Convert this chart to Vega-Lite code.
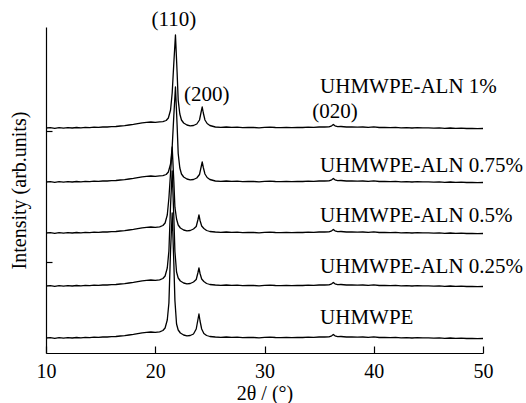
{
  "$schema": "https://vega.github.io/schema/vega-lite/v6.json",
  "width": 437,
  "height": 326,
  "autosize": "none",
  "padding": {"left": 46, "top": 27, "right": 43, "bottom": 50},
  "background": "white",
  "config": {
    "view": {"stroke": null},
    "font": "Liberation Serif, Times New Roman, serif",
    "axis": {"grid": false, "domainColor": "black", "tickColor": "black", "domainWidth": 1.2, "tickWidth": 1.2, "labelFont": "Liberation Serif, Times New Roman, serif", "titleFont": "Liberation Serif, Times New Roman, serif", "labelColor": "black", "titleColor": "black", "titleFontWeight": "normal", "labelFontSize": 20, "titleFontSize": 20}
  },
  "datasets": {
    "curves": [
      {"s":"e","x":10,"y":15},{"s":"e","x":10.4,"y":15.4},{"s":"e","x":10.8,"y":14.7},{"s":"e","x":11.2,"y":15.3},{"s":"e","x":11.6,"y":14.9},{"s":"e","x":12,"y":15.4},{"s":"e","x":12.4,"y":15},{"s":"e","x":12.8,"y":15.5},{"s":"e","x":13.2,"y":15.2},{"s":"e","x":13.6,"y":15.6},{"s":"e","x":14,"y":15.3},{"s":"e","x":14.4,"y":15.8},{"s":"e","x":14.8,"y":15.6},{"s":"e","x":15.2,"y":16},{"s":"e","x":15.6,"y":16},{"s":"e","x":16,"y":16.4},{"s":"e","x":16.4,"y":16.5},{"s":"e","x":16.8,"y":17},{"s":"e","x":17.2,"y":17.3},{"s":"e","x":17.6,"y":18},{"s":"e","x":18,"y":18.6},{"s":"e","x":18.4,"y":19.4},{"s":"e","x":18.8,"y":20.2},{"s":"e","x":19.2,"y":20.6},{"s":"e","x":19.6,"y":21},{"s":"e","x":20,"y":20.7},{"s":"e","x":20.4,"y":21.2},
      {"s":"e","x":20.7,"y":22.5},{"s":"e","x":20.9,"y":25},{"s":"e","x":21.1,"y":33},{"s":"e","x":21.25,"y":50},{"s":"e","x":21.4,"y":102.5},{"s":"e","x":21.55,"y":140},{"s":"e","x":21.7,"y":90},{"s":"e","x":21.8,"y":52.5},{"s":"e","x":21.95,"y":29},{"s":"e","x":22.1,"y":23},{"s":"e","x":22.3,"y":20},{"s":"e","x":22.6,"y":18},{"s":"e","x":22.9,"y":17.2},{"s":"e","x":23.2,"y":17.5},{"s":"e","x":23.5,"y":19},{"s":"e","x":23.75,"y":24},{"s":"e","x":23.9,"y":33},{"s":"e","x":24,"y":39},{"s":"e","x":24.1,"y":32},{"s":"e","x":24.25,"y":24},{"s":"e","x":24.45,"y":19.5},{"s":"e","x":24.7,"y":17.5},
      {"s":"e","x":25,"y":16.5},{"s":"e","x":25.5,"y":16},{"s":"e","x":26,"y":15.7},{"s":"e","x":26.5,"y":16},{"s":"e","x":27,"y":15.6},{"s":"e","x":27.5,"y":15.9},{"s":"e","x":28,"y":15.4},{"s":"e","x":28.5,"y":15.7},{"s":"e","x":29,"y":15.5},{"s":"e","x":29.5,"y":15.2},{"s":"e","x":30,"y":15.6},{"s":"e","x":30.5,"y":15.9},{"s":"e","x":31,"y":15.5},{"s":"e","x":31.5,"y":15.3},{"s":"e","x":32,"y":15.6},{"s":"e","x":32.5,"y":15.4},{"s":"e","x":33,"y":15.7},{"s":"e","x":33.5,"y":15.5},{"s":"e","x":34,"y":15.8},{"s":"e","x":34.5,"y":15.6},{"s":"e","x":35,"y":16},{"s":"e","x":35.5,"y":16},{"s":"e","x":35.9,"y":16.2},{"s":"e","x":36.15,"y":17.2},{"s":"e","x":36.3,"y":18.5},{"s":"e","x":36.45,"y":17.2},{"s":"e","x":36.7,"y":16.4},{"s":"e","x":37,"y":16.5},{"s":"e","x":37.5,"y":16},{"s":"e","x":38,"y":16.2},{"s":"e","x":38.5,"y":15.8},{"s":"e","x":39,"y":16},{"s":"e","x":39.5,"y":15.6},{"s":"e","x":40,"y":16.2},{"s":"e","x":40.5,"y":15.5},{"s":"e","x":41,"y":15.7},{"s":"e","x":41.5,"y":15.3},{"s":"e","x":42,"y":15.6},{"s":"e","x":42.5,"y":15.2},{"s":"e","x":43,"y":15.4},{"s":"e","x":43.5,"y":15},{"s":"e","x":44,"y":15.3},{"s":"e","x":44.5,"y":15.1},{"s":"e","x":45,"y":15.2},{"s":"e","x":45.5,"y":14.8},{"s":"e","x":46,"y":15.1},{"s":"e","x":46.5,"y":14.7},{"s":"e","x":47,"y":15},{"s":"e","x":47.5,"y":14.6},{"s":"e","x":48,"y":14.8},{"s":"e","x":48.5,"y":14.5},{"s":"e","x":49,"y":14.7},{"s":"e","x":49.5,"y":14.4},{"s":"e","x":50,"y":14.5},

      {"s":"d","x":10,"y":67},{"s":"d","x":10.4,"y":67.4},{"s":"d","x":10.8,"y":66.7},{"s":"d","x":11.2,"y":67.3},{"s":"d","x":11.6,"y":66.9},{"s":"d","x":12,"y":67.4},{"s":"d","x":12.4,"y":67},{"s":"d","x":12.8,"y":67.5},{"s":"d","x":13.2,"y":67.2},{"s":"d","x":13.6,"y":67.6},{"s":"d","x":14,"y":67.3},{"s":"d","x":14.4,"y":67.8},{"s":"d","x":14.8,"y":67.6},{"s":"d","x":15.2,"y":68},{"s":"d","x":15.6,"y":68},{"s":"d","x":16,"y":68.4},{"s":"d","x":16.4,"y":68.5},{"s":"d","x":16.8,"y":69},{"s":"d","x":17.2,"y":69.3},{"s":"d","x":17.6,"y":70},{"s":"d","x":18,"y":70.6},{"s":"d","x":18.4,"y":71.4},{"s":"d","x":18.8,"y":72.2},{"s":"d","x":19.2,"y":72.6},{"s":"d","x":19.6,"y":73},{"s":"d","x":20,"y":72.7},{"s":"d","x":20.4,"y":73.2},
      {"s":"d","x":20.7,"y":74.5},{"s":"d","x":20.9,"y":77},{"s":"d","x":21.1,"y":85},{"s":"d","x":21.25,"y":102},{"s":"d","x":21.4,"y":147.5},{"s":"d","x":21.55,"y":182},{"s":"d","x":21.7,"y":136},{"s":"d","x":21.8,"y":101.5},{"s":"d","x":21.95,"y":81},{"s":"d","x":22.1,"y":75},{"s":"d","x":22.3,"y":72},{"s":"d","x":22.6,"y":70},{"s":"d","x":22.9,"y":69.2},{"s":"d","x":23.2,"y":69.5},{"s":"d","x":23.5,"y":71},{"s":"d","x":23.75,"y":73.5},{"s":"d","x":23.9,"y":80},{"s":"d","x":24,"y":85},{"s":"d","x":24.1,"y":79.5},{"s":"d","x":24.25,"y":74},{"s":"d","x":24.45,"y":71.5},{"s":"d","x":24.7,"y":69.5},
      {"s":"d","x":25,"y":68.5},{"s":"d","x":25.5,"y":68},{"s":"d","x":26,"y":67.7},{"s":"d","x":26.5,"y":68},{"s":"d","x":27,"y":67.6},{"s":"d","x":27.5,"y":67.9},{"s":"d","x":28,"y":67.4},{"s":"d","x":28.5,"y":67.7},{"s":"d","x":29,"y":67.5},{"s":"d","x":29.5,"y":67.2},{"s":"d","x":30,"y":67.6},{"s":"d","x":30.5,"y":67.9},{"s":"d","x":31,"y":67.5},{"s":"d","x":31.5,"y":67.3},{"s":"d","x":32,"y":67.6},{"s":"d","x":32.5,"y":67.4},{"s":"d","x":33,"y":67.7},{"s":"d","x":33.5,"y":67.5},{"s":"d","x":34,"y":67.8},{"s":"d","x":34.5,"y":67.6},{"s":"d","x":35,"y":68},{"s":"d","x":35.5,"y":68},{"s":"d","x":35.9,"y":68.2},{"s":"d","x":36.15,"y":69.2},{"s":"d","x":36.3,"y":70.5},{"s":"d","x":36.45,"y":69.2},{"s":"d","x":36.7,"y":68.4},{"s":"d","x":37,"y":68.5},{"s":"d","x":37.5,"y":68},{"s":"d","x":38,"y":68.2},{"s":"d","x":38.5,"y":67.8},{"s":"d","x":39,"y":68},{"s":"d","x":39.5,"y":67.6},{"s":"d","x":40,"y":68.2},{"s":"d","x":40.5,"y":67.5},{"s":"d","x":41,"y":67.7},{"s":"d","x":41.5,"y":67.3},{"s":"d","x":42,"y":67.6},{"s":"d","x":42.5,"y":67.2},{"s":"d","x":43,"y":67.4},{"s":"d","x":43.5,"y":67},{"s":"d","x":44,"y":67.3},{"s":"d","x":44.5,"y":67.1},{"s":"d","x":45,"y":67.2},{"s":"d","x":45.5,"y":66.8},{"s":"d","x":46,"y":67.1},{"s":"d","x":46.5,"y":66.7},{"s":"d","x":47,"y":67},{"s":"d","x":47.5,"y":66.6},{"s":"d","x":48,"y":66.8},{"s":"d","x":48.5,"y":66.5},{"s":"d","x":49,"y":66.7},{"s":"d","x":49.5,"y":66.4},{"s":"d","x":50,"y":66.5},

      {"s":"c","x":10,"y":120},{"s":"c","x":10.4,"y":120.4},{"s":"c","x":10.8,"y":119.7},{"s":"c","x":11.2,"y":120.3},{"s":"c","x":11.6,"y":119.9},{"s":"c","x":12,"y":120.4},{"s":"c","x":12.4,"y":120},{"s":"c","x":12.8,"y":120.5},{"s":"c","x":13.2,"y":120.2},{"s":"c","x":13.6,"y":120.6},{"s":"c","x":14,"y":120.3},{"s":"c","x":14.4,"y":120.8},{"s":"c","x":14.8,"y":120.6},{"s":"c","x":15.2,"y":121},{"s":"c","x":15.6,"y":121},{"s":"c","x":16,"y":121.4},{"s":"c","x":16.4,"y":121.5},{"s":"c","x":16.8,"y":122},{"s":"c","x":17.2,"y":122.3},{"s":"c","x":17.6,"y":123},{"s":"c","x":18,"y":123.6},{"s":"c","x":18.4,"y":124.4},{"s":"c","x":18.8,"y":125.2},{"s":"c","x":19.2,"y":125.6},{"s":"c","x":19.6,"y":126},{"s":"c","x":20,"y":125.7},{"s":"c","x":20.4,"y":126.2},
      {"s":"c","x":20.7,"y":127.5},{"s":"c","x":20.9,"y":130},{"s":"c","x":21.1,"y":138},{"s":"c","x":21.25,"y":155},{"s":"c","x":21.4,"y":180},{"s":"c","x":21.55,"y":206},{"s":"c","x":21.7,"y":171.6},{"s":"c","x":21.8,"y":145.8},{"s":"c","x":21.95,"y":134},{"s":"c","x":22.1,"y":128},{"s":"c","x":22.3,"y":125},{"s":"c","x":22.6,"y":123},{"s":"c","x":22.9,"y":122.2},{"s":"c","x":23.2,"y":122.5},{"s":"c","x":23.5,"y":124},{"s":"c","x":23.75,"y":126.5},{"s":"c","x":23.9,"y":133},{"s":"c","x":24,"y":138},{"s":"c","x":24.1,"y":132.5},{"s":"c","x":24.25,"y":127},{"s":"c","x":24.45,"y":124.5},{"s":"c","x":24.7,"y":122.5},
      {"s":"c","x":25,"y":121.5},{"s":"c","x":25.5,"y":121},{"s":"c","x":26,"y":120.7},{"s":"c","x":26.5,"y":121},{"s":"c","x":27,"y":120.6},{"s":"c","x":27.5,"y":120.9},{"s":"c","x":28,"y":120.4},{"s":"c","x":28.5,"y":120.7},{"s":"c","x":29,"y":120.5},{"s":"c","x":29.5,"y":120.2},{"s":"c","x":30,"y":120.6},{"s":"c","x":30.5,"y":120.9},{"s":"c","x":31,"y":120.5},{"s":"c","x":31.5,"y":120.3},{"s":"c","x":32,"y":120.6},{"s":"c","x":32.5,"y":120.4},{"s":"c","x":33,"y":120.7},{"s":"c","x":33.5,"y":120.5},{"s":"c","x":34,"y":120.8},{"s":"c","x":34.5,"y":120.6},{"s":"c","x":35,"y":121},{"s":"c","x":35.5,"y":121},{"s":"c","x":35.9,"y":121.2},{"s":"c","x":36.15,"y":122.2},{"s":"c","x":36.3,"y":123.5},{"s":"c","x":36.45,"y":122.2},{"s":"c","x":36.7,"y":121.4},{"s":"c","x":37,"y":121.5},{"s":"c","x":37.5,"y":121},{"s":"c","x":38,"y":121.2},{"s":"c","x":38.5,"y":120.8},{"s":"c","x":39,"y":121},{"s":"c","x":39.5,"y":120.6},{"s":"c","x":40,"y":121.2},{"s":"c","x":40.5,"y":120.5},{"s":"c","x":41,"y":120.7},{"s":"c","x":41.5,"y":120.3},{"s":"c","x":42,"y":120.6},{"s":"c","x":42.5,"y":120.2},{"s":"c","x":43,"y":120.4},{"s":"c","x":43.5,"y":120},{"s":"c","x":44,"y":120.3},{"s":"c","x":44.5,"y":120.1},{"s":"c","x":45,"y":120.2},{"s":"c","x":45.5,"y":119.8},{"s":"c","x":46,"y":120.1},{"s":"c","x":46.5,"y":119.7},{"s":"c","x":47,"y":120},{"s":"c","x":47.5,"y":119.6},{"s":"c","x":48,"y":119.8},{"s":"c","x":48.5,"y":119.5},{"s":"c","x":49,"y":119.7},{"s":"c","x":49.5,"y":119.4},{"s":"c","x":50,"y":119.5},

      {"s":"b","x":10,"y":171},{"s":"b","x":10.4,"y":171.4},{"s":"b","x":10.8,"y":170.7},{"s":"b","x":11.2,"y":171.3},{"s":"b","x":11.6,"y":170.9},{"s":"b","x":12,"y":171.4},{"s":"b","x":12.4,"y":171},{"s":"b","x":12.8,"y":171.5},{"s":"b","x":13.2,"y":171.2},{"s":"b","x":13.6,"y":171.6},{"s":"b","x":14,"y":171.3},{"s":"b","x":14.4,"y":171.8},{"s":"b","x":14.8,"y":171.6},{"s":"b","x":15.2,"y":172},{"s":"b","x":15.6,"y":172},{"s":"b","x":16,"y":172.4},{"s":"b","x":16.4,"y":172.5},{"s":"b","x":16.8,"y":173},{"s":"b","x":17.2,"y":173.3},{"s":"b","x":17.6,"y":174},{"s":"b","x":18,"y":174.6},{"s":"b","x":18.4,"y":175.4},{"s":"b","x":18.8,"y":176.2},{"s":"b","x":19.2,"y":176.6},{"s":"b","x":19.6,"y":177},{"s":"b","x":20,"y":176.7},{"s":"b","x":20.4,"y":177.2},{"s":"b","x":20.7,"y":177.4},
      {"s":"b","x":21,"y":178.5},{"s":"b","x":21.2,"y":181},{"s":"b","x":21.4,"y":189},{"s":"b","x":21.55,"y":206},{"s":"b","x":21.7,"y":237.5},{"s":"b","x":21.85,"y":266},{"s":"b","x":22,"y":228},{"s":"b","x":22.1,"y":199.5},{"s":"b","x":22.25,"y":185},{"s":"b","x":22.4,"y":179},{"s":"b","x":22.6,"y":176},{"s":"b","x":22.9,"y":174},{"s":"b","x":23.2,"y":173.2},{"s":"b","x":23.5,"y":173.5},{"s":"b","x":23.8,"y":175},{"s":"b","x":24.05,"y":178.5},{"s":"b","x":24.2,"y":186},{"s":"b","x":24.3,"y":191},{"s":"b","x":24.4,"y":185.5},{"s":"b","x":24.55,"y":179},{"s":"b","x":24.75,"y":175.5},{"s":"b","x":25,"y":173.5},
      {"s":"b","x":25.5,"y":172},{"s":"b","x":26,"y":171.7},{"s":"b","x":26.5,"y":172},{"s":"b","x":27,"y":171.6},{"s":"b","x":27.5,"y":171.9},{"s":"b","x":28,"y":171.4},{"s":"b","x":28.5,"y":171.7},{"s":"b","x":29,"y":171.5},{"s":"b","x":29.5,"y":171.2},{"s":"b","x":30,"y":171.6},{"s":"b","x":30.5,"y":171.9},{"s":"b","x":31,"y":171.5},{"s":"b","x":31.5,"y":171.3},{"s":"b","x":32,"y":171.6},{"s":"b","x":32.5,"y":171.4},{"s":"b","x":33,"y":171.7},{"s":"b","x":33.5,"y":171.5},{"s":"b","x":34,"y":171.8},{"s":"b","x":34.5,"y":171.6},{"s":"b","x":35,"y":172},{"s":"b","x":35.5,"y":172},{"s":"b","x":35.9,"y":172.2},{"s":"b","x":36.15,"y":173.2},{"s":"b","x":36.3,"y":174.5},{"s":"b","x":36.45,"y":173.2},{"s":"b","x":36.7,"y":172.4},{"s":"b","x":37,"y":172.5},{"s":"b","x":37.5,"y":172},{"s":"b","x":38,"y":172.2},{"s":"b","x":38.5,"y":171.8},{"s":"b","x":39,"y":172},{"s":"b","x":39.5,"y":171.6},{"s":"b","x":40,"y":172.2},{"s":"b","x":40.5,"y":171.5},{"s":"b","x":41,"y":171.7},{"s":"b","x":41.5,"y":171.3},{"s":"b","x":42,"y":171.6},{"s":"b","x":42.5,"y":171.2},{"s":"b","x":43,"y":171.4},{"s":"b","x":43.5,"y":171},{"s":"b","x":44,"y":171.3},{"s":"b","x":44.5,"y":171.1},{"s":"b","x":45,"y":171.2},{"s":"b","x":45.5,"y":170.8},{"s":"b","x":46,"y":171.1},{"s":"b","x":46.5,"y":170.7},{"s":"b","x":47,"y":171},{"s":"b","x":47.5,"y":170.6},{"s":"b","x":48,"y":170.8},{"s":"b","x":48.5,"y":170.5},{"s":"b","x":49,"y":170.7},{"s":"b","x":49.5,"y":170.4},{"s":"b","x":50,"y":170.5},

      {"s":"a","x":10,"y":225},{"s":"a","x":10.4,"y":225.4},{"s":"a","x":10.8,"y":224.7},{"s":"a","x":11.2,"y":225.3},{"s":"a","x":11.6,"y":224.9},{"s":"a","x":12,"y":225.4},{"s":"a","x":12.4,"y":225},{"s":"a","x":12.8,"y":225.5},{"s":"a","x":13.2,"y":225.2},{"s":"a","x":13.6,"y":225.6},{"s":"a","x":14,"y":225.3},{"s":"a","x":14.4,"y":225.8},{"s":"a","x":14.8,"y":225.6},{"s":"a","x":15.2,"y":226},{"s":"a","x":15.6,"y":226},{"s":"a","x":16,"y":226.4},{"s":"a","x":16.4,"y":226.5},{"s":"a","x":16.8,"y":227},{"s":"a","x":17.2,"y":227.3},{"s":"a","x":17.6,"y":228},{"s":"a","x":18,"y":228.6},{"s":"a","x":18.4,"y":229.4},{"s":"a","x":18.8,"y":230.2},{"s":"a","x":19.2,"y":230.6},{"s":"a","x":19.6,"y":231},{"s":"a","x":20,"y":230.7},{"s":"a","x":20.4,"y":231.2},{"s":"a","x":20.7,"y":231.4},
      {"s":"a","x":21,"y":232.5},{"s":"a","x":21.2,"y":235},{"s":"a","x":21.4,"y":243},{"s":"a","x":21.55,"y":260},{"s":"a","x":21.7,"y":290},{"s":"a","x":21.85,"y":318},{"s":"a","x":22,"y":280.8},{"s":"a","x":22.1,"y":252.9},{"s":"a","x":22.25,"y":239},{"s":"a","x":22.4,"y":233},{"s":"a","x":22.6,"y":230},{"s":"a","x":22.9,"y":228},{"s":"a","x":23.2,"y":227.2},{"s":"a","x":23.5,"y":227.5},{"s":"a","x":23.8,"y":229},{"s":"a","x":24.05,"y":233},{"s":"a","x":24.2,"y":241},{"s":"a","x":24.3,"y":246},{"s":"a","x":24.4,"y":240},{"s":"a","x":24.55,"y":233},{"s":"a","x":24.75,"y":229.5},{"s":"a","x":25,"y":227.5},
      {"s":"a","x":25.5,"y":226},{"s":"a","x":26,"y":225.7},{"s":"a","x":26.5,"y":226},{"s":"a","x":27,"y":225.6},{"s":"a","x":27.5,"y":225.9},{"s":"a","x":28,"y":225.4},{"s":"a","x":28.5,"y":225.7},{"s":"a","x":29,"y":225.5},{"s":"a","x":29.5,"y":225.2},{"s":"a","x":30,"y":225.6},{"s":"a","x":30.5,"y":225.9},{"s":"a","x":31,"y":225.5},{"s":"a","x":31.5,"y":225.3},{"s":"a","x":32,"y":225.6},{"s":"a","x":32.5,"y":225.4},{"s":"a","x":33,"y":225.7},{"s":"a","x":33.5,"y":225.5},{"s":"a","x":34,"y":225.8},{"s":"a","x":34.5,"y":225.6},{"s":"a","x":35,"y":226},{"s":"a","x":35.5,"y":226},{"s":"a","x":35.9,"y":226.2},{"s":"a","x":36.15,"y":227.2},{"s":"a","x":36.3,"y":228.5},{"s":"a","x":36.45,"y":227.2},{"s":"a","x":36.7,"y":226.4},{"s":"a","x":37,"y":226.5},{"s":"a","x":37.5,"y":226},{"s":"a","x":38,"y":226.2},{"s":"a","x":38.5,"y":225.8},{"s":"a","x":39,"y":226},{"s":"a","x":39.5,"y":225.6},{"s":"a","x":40,"y":226.2},{"s":"a","x":40.5,"y":225.5},{"s":"a","x":41,"y":225.7},{"s":"a","x":41.5,"y":225.3},{"s":"a","x":42,"y":225.6},{"s":"a","x":42.5,"y":225.2},{"s":"a","x":43,"y":225.4},{"s":"a","x":43.5,"y":225},{"s":"a","x":44,"y":225.3},{"s":"a","x":44.5,"y":225.1},{"s":"a","x":45,"y":225.2},{"s":"a","x":45.5,"y":224.8},{"s":"a","x":46,"y":225.1},{"s":"a","x":46.5,"y":224.7},{"s":"a","x":47,"y":225},{"s":"a","x":47.5,"y":224.6},{"s":"a","x":48,"y":224.8},{"s":"a","x":48.5,"y":224.5},{"s":"a","x":49,"y":224.7},{"s":"a","x":49.5,"y":224.4},{"s":"a","x":50,"y":224.5}
    ],
    "peaks": [
      {"label": "(110)", "x": 21.7, "y": 333},
      {"label": "(200)", "x": 24.72, "y": 258},
      {"label": "(020)", "x": 36.46, "y": 241}
    ],
    "samples": [
      {"label": "UHMWPE-ALN 1%", "x": 35.09, "y": 266},
      {"label": "UHMWPE-ALN 0.75%", "x": 35.09, "y": 187},
      {"label": "UHMWPE-ALN 0.5%", "x": 35.09, "y": 137},
      {"label": "UHMWPE-ALN 0.25%", "x": 35.09, "y": 86},
      {"label": "UHMWPE", "x": 35.09, "y": 35}
    ]
  },
  "layer": [
    {
      "data": {"name": "curves"},
      "mark": {"type": "line", "color": "black", "strokeWidth": 1.3, "strokeJoin": "round"},
      "encoding": {
        "x": {"field": "x", "type": "quantitative", "scale": {"domain": [10, 50], "nice": false, "zero": false},
          "axis": {"values": [10, 20, 30, 40, 50], "tickSize": -7, "labelPadding": 15, "title": "2θ / (°)", "titlePadding": 2, "labelFlush": false}},
        "y": {"field": "y", "type": "quantitative", "scale": {"domain": [0, 326], "nice": false, "zero": false},
          "axis": {"values": [91, 222], "tickSize": -6, "labels": false, "title": "Intensity (arb.units)", "titlePadding": 16}},
        "detail": {"field": "s", "type": "nominal"},
        "order": {"field": "x", "type": "quantitative"}
      }
    },
    {
      "data": {"name": "peaks"},
      "mark": {"type": "text", "align": "center", "baseline": "middle", "fontSize": 21, "font": "Liberation Serif, Times New Roman, serif", "color": "black"},
      "encoding": {
        "x": {"field": "x", "type": "quantitative"},
        "y": {"field": "y", "type": "quantitative"},
        "text": {"field": "label"}
      }
    },
    {
      "data": {"name": "samples"},
      "mark": {"type": "text", "align": "left", "baseline": "middle", "fontSize": 21, "font": "Liberation Serif, Times New Roman, serif", "color": "black"},
      "encoding": {
        "x": {"field": "x", "type": "quantitative"},
        "y": {"field": "y", "type": "quantitative"},
        "text": {"field": "label"}
      }
    }
  ]
}
